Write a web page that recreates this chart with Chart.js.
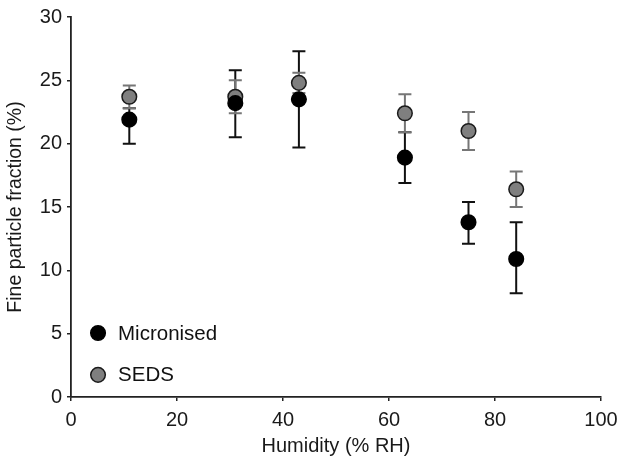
<!DOCTYPE html>
<html><head><meta charset="utf-8">
<script src="https://cdn.jsdelivr.net/npm/chart.js@4.4.1/dist/chart.umd.min.js"></script>
<style>html,body{margin:0;padding:0;background:#fff}#wrap{width:617px;height:458px}</style>
</head><body><div id="wrap"><canvas id="c" width="617" height="458"></canvas></div>
<script>
const humidity = [11, 31, 43, 63, 75, 84];
const micronised = [21.9, 23.2, 23.5, 18.9, 13.8, 10.9];
const micronisedLow = [20.0, 20.5, 19.7, 16.9, 12.1, 8.2];
const micronisedHigh = [22.8, 25.8, 27.3, 20.9, 15.4, 13.8];
const seds = [23.7, 23.7, 24.8, 22.4, 21.0, 16.4];
const sedsLow = [22.8, 22.4, 24.0, 20.9, 19.5, 15.0];
const sedsHigh = [24.6, 25.0, 25.6, 23.9, 22.5, 17.8];
const xTicks = [0, 20, 40, 60, 80, 100];
const yTicks = [0, 5, 10, 15, 20, 25, 30];

const FONT = "'Liberation Sans', Arial, sans-serif";

const errorBars = {
  id: 'errorBars',
  beforeDatasetsDraw(chart) {
    const ctx = chart.ctx, xs = chart.scales.x, ys = chart.scales.y;
    chart.data.datasets.forEach((ds) => {
      ctx.save();
      ctx.strokeStyle = ds.errColor;
      ctx.lineWidth = 2;
      ds.data.forEach((p, i) => {
        const px = xs.getPixelForValue(p.x);
        const y1 = ys.getPixelForValue(ds.low[i]);
        const y2 = ys.getPixelForValue(ds.high[i]);
        ctx.beginPath();
        ctx.moveTo(px, y1); ctx.lineTo(px, y2);
        ctx.moveTo(px - 6.5, y1); ctx.lineTo(px + 6.5, y1);
        ctx.moveTo(px - 6.5, y2); ctx.lineTo(px + 6.5, y2);
        ctx.stroke();
      });
      ctx.restore();
    });
  }
};

const customLegend = {
  id: 'customLegend',
  afterDraw(chart) {
    const ctx = chart.ctx;
    const xs = chart.scales.x, ys = chart.scales.y;
    const entries = [[chart.data.datasets[0], 5.05], [chart.data.datasets[1], 1.75]];
    ctx.save();
    entries.forEach(([ds, yv]) => {
      const px = xs.getPixelForValue(5.1);
      const py = ys.getPixelForValue(yv);
      ctx.beginPath();
      ctx.arc(px, py, 7.3, 0, Math.PI * 2);
      ctx.fillStyle = ds.backgroundColor;
      ctx.fill();
      ctx.lineWidth = 1.5;
      ctx.strokeStyle = ds.borderColor;
      ctx.stroke();
      ctx.fillStyle = '#111';
      ctx.font = '20.5px ' + FONT;
      ctx.textBaseline = 'middle';
      ctx.textAlign = 'left';
      ctx.fillText(ds.label, px + 20, py + 1);
    });
    ctx.restore();
  }
};

const mk = (xsArr, ys) => xsArr.map((x, i) => ({x, y: ys[i]}));

new Chart(document.getElementById('c'), {
  type: 'scatter',
  data: {
    datasets: [
      {label: 'Micronised', data: mk(humidity, micronised), low: micronisedLow, high: micronisedHigh,
       backgroundColor: '#000', borderColor: '#000', borderWidth: 1.5, pointRadius: 7.3, errColor: '#111'},
      {label: 'SEDS', data: mk(humidity, seds), low: sedsLow, high: sedsHigh,
       backgroundColor: '#7f7f7f', borderColor: '#1a1a1a', borderWidth: 1.5, pointRadius: 7.3, errColor: '#767676'}
    ]
  },
  options: {
    responsive: false, animation: false, devicePixelRatio: 1,
    layout: {padding: {top: 16, right: 16, left: 0, bottom: 0}},
    plugins: {legend: {display: false}, tooltip: {enabled: false}},
    scales: {
      x: {
        type: 'linear', min: 0, max: 100,
        afterBuildTicks: s => { s.ticks = xTicks.map(v => ({value: v})); },
        afterFit: s => { s.height = 61; s.paddingRight = 16; s.paddingLeft = 0; },
        grid: {display: true, drawOnChartArea: false, drawTicks: true, tickLength: 4, color: '#222', lineWidth: 1.5},
        border: {display: true, color: '#222', width: 1.8},
        ticks: {color: '#1a1a1a', font: {family: FONT, size: 20}, padding: 7},
        title: {display: true, text: 'Humidity (% RH)', color: '#1a1a1a', font: {family: FONT, size: 20}, padding: {top: 0, bottom: 0}}
      },
      y: {
        type: 'linear', min: 0, max: 30,
        afterBuildTicks: s => { s.ticks = yTicks.map(v => ({value: v})); },
        afterFit: s => { s.width = 71; },
        grid: {display: true, drawOnChartArea: false, drawTicks: true, tickLength: 4, color: '#222', lineWidth: 1.5},
        border: {display: true, color: '#222', width: 1.8},
        ticks: {color: '#1a1a1a', font: {family: FONT, size: 20}, padding: 5},
        title: {display: true, text: 'Fine particle fraction (%)', color: '#1a1a1a', font: {family: FONT, size: 19.5}, padding: {top: 4, bottom: 0}}
      }
    }
  },
  plugins: [errorBars, customLegend]
});
</script>
</body></html>
